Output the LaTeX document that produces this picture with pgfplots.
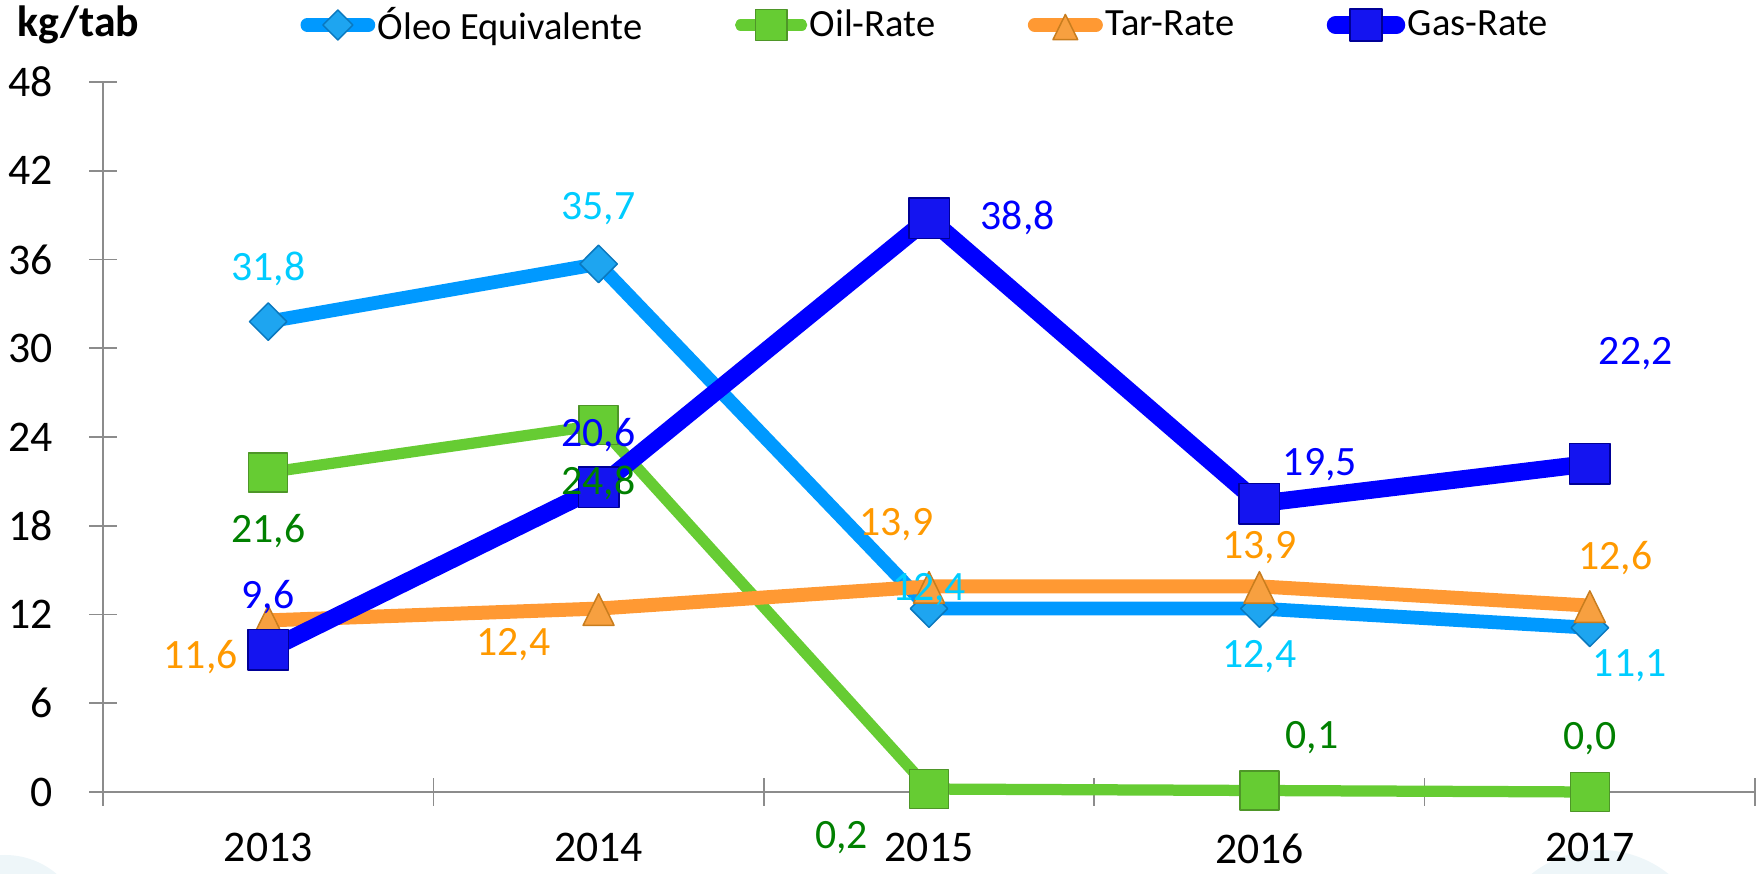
\documentclass[border=0pt]{standalone}
\usepackage{pgfplots}
\pgfplotsset{compat=1.18}
\usepackage{pgfplotstable}
\usepackage{fontspec}
\setmainfont{Carlito}

\definecolor{cOleo}{RGB}{0,153,255}
\definecolor{cOleoM}{RGB}{30,165,240}
\definecolor{cOleoD}{RGB}{10,120,190}
\definecolor{cOleoLab}{RGB}{0,204,255}
\definecolor{cOil}{RGB}{102,204,51}
\definecolor{cOilD}{RGB}{78,150,40}
\definecolor{cOilLab}{RGB}{0,128,0}
\definecolor{cTar}{RGB}{255,153,51}
\definecolor{cTarM}{RGB}{247,160,64}
\definecolor{cTarD}{RGB}{200,125,30}
\definecolor{cTarLab}{RGB}{255,153,0}
\definecolor{cGas}{RGB}{0,0,255}
\definecolor{cGasM}{RGB}{20,20,240}
\definecolor{cGasD}{RGB}{0,0,150}
\definecolor{cGasLab}{RGB}{0,0,255}
\definecolor{axgray}{RGB}{140,140,140}
\definecolor{bgc}{RGB}{238,246,249}

\pgfplotstableread{
x y lx ly lab
0 31.8 0 21 31,8
1 35.7 0 22 35,7
2 12.4 0 7.5 12,4
3 12.4 0 -19.4 12,4
4 11.1 16 -15 11,1
}\oleo
\pgfplotstableread{
x y lx ly lab
0 21.6 0 -23.6 21,6
1 24.8 0 -23 24,8
2 0.2 -35 -19.3 0,2
3 0.1 21 21 0,1
4 0.0 0 21.5 0,0
}\oil
\pgfplotstableread{
x y lx ly lab
0 11.6 -27 -14.5 11,6
1 12.4 -34 -14.6 12,4
2 13.9 -13 24.7 13,9
3 13.9 0 15.7 13,9
4 12.6 10.3 18.9 12,6
}\tar
\pgfplotstableread{
x y lx ly lab
0 9.6 0 21 9,6
1 20.6 0 21 20,6
2 38.8 35.5 0 38,8
3 19.5 24.2 15.7 19,5
4 22.2 18.4 44 22,2
}\gas

\pgfplotsset{
  lab/.style={draw=none, forget plot, nodes near coords, point meta=explicit symbolic,
    visualization depends on={\thisrow{lx}\as\lx},
    visualization depends on={\thisrow{ly}\as\ly},
    every node near coord/.append style={anchor=center, inner sep=0pt, xshift=\lx pt, yshift=\ly pt,
      text=#1, font=\fontsize{16.7}{20}\selectfont}},
}

\begin{document}
\begin{tikzpicture}
\useasboundingbox (-41.2pt,-32.8pt) rectangle (663.2pt,316.8pt);
\fill[bgc] (-39.2pt,-57.2pt) circle (32pt);
\fill[bgc] (598.8pt,-67.2pt) circle (44pt);
\begin{axis}[
  at={(0,0)}, anchor=south west,
  scale only axis, width=660.8pt, height=284pt,
  xmin=-0.5, xmax=4.5, ymin=0, ymax=48,
  axis x line*=bottom, axis y line*=left,
  axis line style={draw=axgray, line width=0.7pt},
  xtick={0,1,2,3,4}, xticklabels={2013,2014,2015,2016,2017},
  minor xtick={-0.5,0.5,1.5,2.5,3.5,4.5},
  ytick={0,6,...,48},
  tick align=center,
  major tick length=11pt, minor tick length=11.2pt,
  major x tick style={draw=none},
  tick style={draw=axgray, line width=0.7pt},
  tick label style={font=\fontsize{17.5}{21}\selectfont},
  yticklabel style={anchor=east, inner sep=0pt, xshift=-14.5pt},
  xticklabel style={anchor=north, inner sep=0pt, yshift=-10.9pt},
  /pgf/number format/assume math mode=true,
  clip=false,
  legend columns=4,
  legend style={draw=none, fill=none, at={(0,1)}, anchor=west, xshift=78.8pt, yshift=22.8pt,
    inner sep=0pt, font=\fontsize{15.4}{18}\selectfont,
    /tikz/every even column/.append style={column sep=36pt},
    nodes={inner xsep=1pt}},
  legend image code/.code={\draw[mark repeat=2, mark phase=2, line cap=round, #1, every mark/.append style={scale=0.8}] plot coordinates {(0pt,0pt) (12.2pt,0pt) (24.4pt,0pt)};},
]
\addplot[cOleo, line width=5.5pt, line join=round, mark=diamond*, mark size=7.5pt,
  mark options={fill=cOleoM, draw=cOleoD, line width=0.6pt, xscale=1.33}] table[x=x,y=y]{\oleo};
\addlegendentry{Óleo Equivalente}
\addplot[cOil, line width=4.5pt, line join=round, mark=square*, mark size=7.8pt,
  mark options={fill=cOil, draw=cOilD, line width=0.6pt}] table[x=x,y=y]{\oil};
\addlegendentry{Oil-Rate}
\addplot[cTar, line width=5.6pt, line join=round, mark=triangle*, mark size=8.4pt,
  mark options={fill=cTarM, draw=cTarD, line width=0.6pt, xscale=0.85, yshift=-2.5pt}] table[x=x,y=y]{\tar};
\addlegendentry{Tar-Rate}
\addplot[cGas, line width=7pt, line join=round, mark=square*, mark size=8.1pt,
  mark options={fill=cGasM, draw=cGasD, line width=0.6pt}] table[x=x,y=y]{\gas};
\addlegendentry{Gas-Rate}

\addplot[lab=cOleoLab] table[x=x,y=y,meta=lab]{\oleo};
\addplot[lab=cOilLab] table[x=x,y=y,meta=lab]{\oil};
\addplot[lab=cTarLab] table[x=x,y=y,meta=lab]{\tar};
\addplot[lab=cGasLab] table[x=x,y=y,meta=lab]{\gas};

\node[anchor=west, inner sep=0pt, xshift=-34.4pt, yshift=22.8pt, font=\bfseries\fontsize{17.5}{21}\selectfont] at (rel axis cs:0,1) {kg/tab};
\end{axis}
\end{tikzpicture}
\end{document}
